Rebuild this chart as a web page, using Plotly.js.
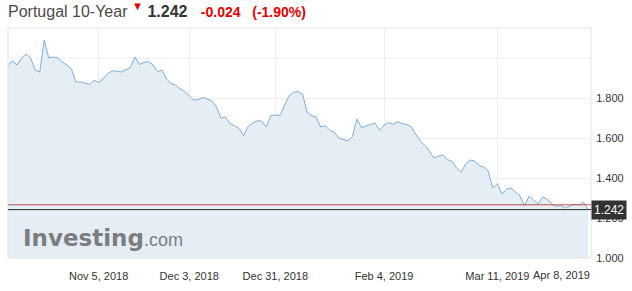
<!DOCTYPE html>
<html>
<head>
<meta charset="utf-8">
<script src="https://cdn.plot.ly/plotly-3.0.1.min.js"></script>
<style>html,body{margin:0;padding:0;background:#fff;}#chart{width:632px;height:291px;}</style>
</head>
<body>
<div id="chart"></div>
<script>
// ---- data ----
const instrument = "Portugal 10-Year";
const startDate = "2018-10-08";
const endDate = "2019-04-08";
const holidays = ["2018-12-25", "2019-01-01"];
const yields = [
  1.965, 1.985, 1.965, 2.000, 2.020, 2.000, 1.940, 1.930, 2.090, 2.000,
  2.005, 2.000, 1.980, 1.965, 1.945, 1.880, 1.880, 1.873, 1.868, 1.888,
  1.878, 1.895, 1.922, 1.935, 1.935, 1.930, 1.940, 1.952, 2.005, 1.968,
  1.978, 1.982, 1.966, 1.932, 1.940, 1.895, 1.872, 1.865, 1.845, 1.833,
  1.810, 1.790, 1.792, 1.803, 1.795, 1.785, 1.755, 1.700, 1.705, 1.672,
  1.662, 1.648, 1.612, 1.658, 1.675, 1.686, 1.684, 1.655, 1.712, 1.715,
  1.712, 1.763, 1.810, 1.828, 1.832, 1.820, 1.730, 1.712, 1.705, 1.655,
  1.662, 1.638, 1.630, 1.600, 1.592, 1.585, 1.607, 1.695, 1.652, 1.660,
  1.668, 1.675, 1.638, 1.665, 1.677, 1.668, 1.682, 1.672, 1.668, 1.655,
  1.618, 1.585, 1.562, 1.535, 1.500, 1.510, 1.515, 1.492, 1.483, 1.450,
  1.428, 1.470, 1.490, 1.485, 1.462, 1.455, 1.432, 1.350, 1.372, 1.320,
  1.343, 1.350, 1.330, 1.310, 1.260, 1.310, 1.290, 1.270, 1.305, 1.295,
  1.270, 1.258, 1.262, 1.250, 1.260, 1.270, 1.265, 1.280, 1.242
];
const prevClose = 1.266;
const xTickDates = ["2018-11-05", "2018-12-03", "2018-12-31", "2019-02-04", "2019-03-11"];
const xTickLabels = ["Nov 5, 2018", "Dec 3, 2018", "Dec 31, 2018", "Feb 4, 2019", "Mar 11, 2019"];
const lastTickDate = "2019-04-08";
const lastTickLabel = "Apr 8, 2019";
const yTickVals = [1.0, 1.2, 1.4, 1.6, 1.8];
const yTickLabels = ["1.000", "1.200", "1.400", "1.600", "1.800"];
const yExtraGrid = 2.0;

// trading-day calendar (weekdays, minus holidays)
function tradingDays(start, end, skip) {
  const out = [];
  const d = new Date(start + "T00:00:00Z");
  const e = new Date(end + "T00:00:00Z");
  while (d <= e) {
    const s = d.toISOString().slice(0, 10);
    const wd = d.getUTCDay();
    if (wd !== 0 && wd !== 6 && skip.indexOf(s) < 0) out.push(s);
    d.setUTCDate(d.getUTCDate() + 1);
  }
  return out;
}
const dates = tradingDays(startDate, endDate, holidays);

const last = yields[yields.length - 1];
const change = last - prevClose;
const pct = change / prevClose * 100;
const red = "#e60000";
const font = "Liberation Sans, Arial, sans-serif";

const trace = {
  x: dates, y: yields, type: "scatter", mode: "lines",
  line: {color: "#7eaedb", width: 1},
  fill: "tozeroy", fillcolor: "#e5edf5",
  hoverinfo: "skip"
};

const titleText =
  instrument + ' <sup><span style="color:' + red + '">▼</span></sup> ' +
  '<b><span style="color:#333">' + last.toFixed(3) + '</span></b>&nbsp;&nbsp; ' +
  '<span style="color:' + red + ';font-size:14px"><b>' + change.toFixed(3) + '</b>&nbsp;&nbsp;&nbsp;<b>(' +
  pct.toFixed(2) + '%)</b></span>';

const layout = {
  width: 632, height: 291,
  margin: {l: 8, r: 41, t: 28, b: 33},
  paper_bgcolor: "#fff", plot_bgcolor: "#fff",
  showlegend: false,
  font: {family: font, size: 11, color: "#333"},
  title: {text: titleText, x: 8 / 632, xanchor: "left", xref: "container",
          y: 1 - 11 / 291, yanchor: "middle", yref: "container",
          font: {family: font, size: 16, color: "#4a4a4a"}},
  xaxis: {
    type: "date",
    range: [startDate, "2019-04-08 16:00"],
    rangebreaks: [{bounds: ["sat", "mon"]}, {values: holidays}],
    tickmode: "array", tickvals: xTickDates, ticktext: xTickLabels,
    showgrid: true, gridcolor: "#efefef", gridwidth: 1,
    zeroline: false, showline: false,
    ticks: "outside", ticklen: 8, tickcolor: "rgba(0,0,0,0)",
    tickfont: {family: font, size: 11, color: "#333"}
  },
  yaxis: {
    side: "right", range: [1.0, 2.15],
    tickmode: "array", tickvals: yTickVals, ticktext: yTickLabels,
    showgrid: true, gridcolor: "#efefef", gridwidth: 1,
    zeroline: false, showline: false,
    ticks: "outside", ticklen: 2, tickcolor: "rgba(0,0,0,0)",
    tickfont: {family: font, size: 11, color: "#333"}
  },
  shapes: [
    {type: "line", xref: "paper", yref: "y", x0: 0, x1: 1, y0: yExtraGrid, y1: yExtraGrid,
     line: {color: "#efefef", width: 1}, layer: "below"},
    {type: "rect", xref: "paper", yref: "paper", x0: 0, x1: 1, y0: 0, y1: 1,
     line: {color: "#e3e3e3", width: 1}, layer: "above"},
    {type: "line", xref: "paper", yref: "y", x0: 0, x1: 1, y0: prevClose, y1: prevClose,
     line: {color: "#c0504d", width: 1}},
    {type: "line", xref: "paper", yref: "y", x0: 0, x1: 1, y0: last, y1: last,
     line: {color: "#2b2b2b", width: 1}}
  ],
  annotations: [
    {text: last.toFixed(3), xref: "paper", yref: "y", x: 1, y: last,
     xanchor: "left", yanchor: "middle", showarrow: false,
     bgcolor: "#333", borderpad: 2, font: {family: font, size: 12, color: "#fff"}},
    {text: lastTickLabel, xref: "x", yref: "paper", x: lastTickDate, y: 0,
     xanchor: "right", yanchor: "top", yshift: -9, xshift: 4, showarrow: false,
     font: {family: font, size: 11, color: "#333"}},
    {text: '<b>Investing</b><span style="font-family:Liberation Sans;font-size:18px;font-weight:normal">.com</span>',
     xref: "paper", yref: "paper", x: (21 - 8) / 583, y: (258 - 238) / 230,
     xanchor: "left", yanchor: "middle", showarrow: false,
     font: {family: "DejaVu Sans", size: 23, color: "#7b7e81"}}
  ]
};

Plotly.newPlot("chart", [trace], layout, {displayModeBar: false, staticPlot: true});
</script>
</body>
</html>
